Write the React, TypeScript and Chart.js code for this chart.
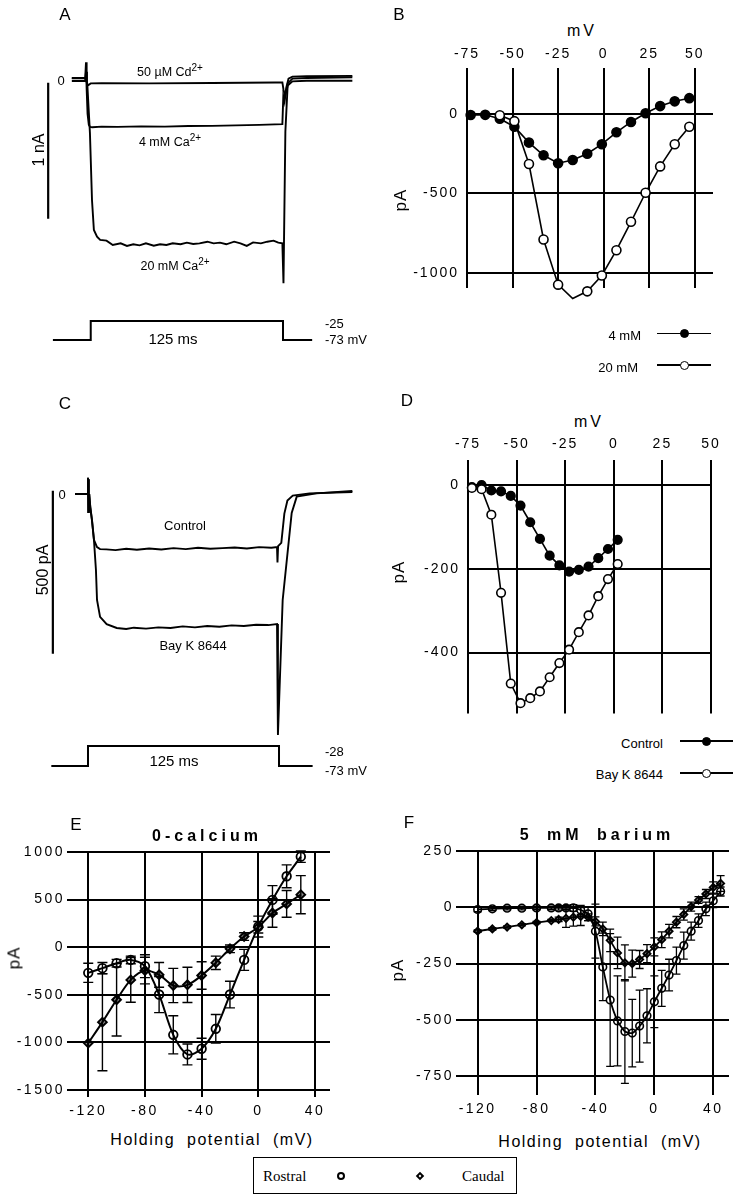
import React, { useEffect, useRef } from "react";
import { Chart, registerables } from "chart.js";
Chart.register(...registerables);

// ---------------- Panel A : current traces (ms, pA) ----------------
const aTimeCd = [-9, -0.5, 0, 0.6, 1.5, 3, 10, 40, 80, 120, 124.6, 125.3, 126.3, 128, 131, 140, 169];
const aCurCd = [-7, -7, 60, -30, -37, -25, -24, -25, -22, -18, -18, -70, -120, -40, -10, -6, -6];
const aTimeCa4 = [-9, -0.5, 0, 0.4, 1, 1.8, 2.6, 4, 10, 20, 35, 50, 65, 80, 95, 110, 124.6, 125.2, 126, 127, 128.5, 131, 140, 169];
const aCurCa4 = [15, 15, 130, -60, -250, -330, -345, -347, -343, -345, -341, -343, -338, -337, -334, -330, -325, -120, -160, -60, 10, 25, 28, 30];
const aTimeCa20 = [-9, -0.5, 0.8, 2.5, 3.8, 5, 7, 9, 13, 17, 22, 26, 30, 34, 38, 43, 47, 51, 55, 60, 64, 68, 72, 77, 81, 85, 89, 94, 98, 102, 106, 111, 115, 119, 122, 124.6, 125.3, 126.5, 128, 131, 140, 169];
const aCurCa20 = [12, 12, -25, -392, -882, -1103, -1152, -1176, -1181, -1213, -1201, -1220, -1208, -1216, -1201, -1218, -1208, -1213, -1201, -1208, -1196, -1206, -1201, -1189, -1201, -1196, -1208, -1189, -1201, -1220, -1194, -1201, -1189, -1181, -1196, -1201, -1495, -380, -25, 10, 15, 20];
const aProtocolTime = [-21, 3, 3, 125, 125, 143.5];
const aProtocolMv = [-73, -73, -25, -25, -73, -73];
const aScaleBarTime = [-24, -24];
const aScaleBarPa = [-20, -1020];

// ---------------- Panel C : current traces (ms, pA) ----------------
const cTimeControl = [-8.5, -0.3, 0, 0.2, 0.4, 0.6, 0.8, 1.5, 2.6, 3.9, 5.9, 7.9, 12, 18, 25, 32, 40, 48, 56, 64, 72, 80, 88, 96, 104, 112, 120, 123.7, 124, 124.4, 126.5, 128.5, 130.5, 134, 145, 173];
const cCurControl = [0, 0, 50, -55, 45, -40, 0, -40, -80, -141, -163, -169, -170, -172, -168, -171, -167, -170, -166, -169, -165, -168, -166, -164, -167, -163, -165, -163, -210, -160, -150, -60, -20, -5, 2, 6];
const cTimeBayK = [-8.5, -0.3, 0, 0.2, 0.4, 0.6, 0.8, 1.5, 2.6, 3.9, 5.2, 5.9, 7.9, 12.2, 18.8, 25, 30, 38, 46, 54, 62, 70, 78, 86, 94, 102, 110, 118, 123.7, 124.3, 127.4, 133.3, 136.6, 149.5, 173];
const cCurBayK = [0, 0, 50, -55, 45, -40, 0, -40, -80, -141, -233, -325, -377, -399, -411, -414, -410, -413, -409, -411, -406, -409, -405, -407, -403, -405, -401, -402, -399, -739, -325, -58, -8, 2, 9];
const cProtocolTime = [-24, 0, 0, 125, 125, 147];
const cProtocolMv = [-73, -73, -28, -28, -73, -73];
const cScaleBarTime = [-23, -23];
const cScaleBarPa = [10, -490];

// ---------------- Panel B : I-V (mV, pA) ----------------
const bXTicks = [-75, -50, -25, 0, 25, 50];
const bYTicks = [0, -500, -1000];
const bVoltage4 = [-73, -65, -57, -49, -41, -33, -25, -17, -9, -1, 7, 15, 23, 31, 39, 47];
const b4mM = [-6, -5, -30, -80, -180, -260, -310, -290, -250, -190, -115, -50, 5, 50, 80, 100];
const bVoltage20 = [-57, -49, -41, -33, -25, -17, -9, -1, 7, 15, 23, 31, 39, 47];
const b20mM = [-8, -45, -315, -790, -1075, -1162, -1117, -1017, -858, -679, -496, -330, -190, -80];

// ---------------- Panel D : I-V (mV, pA) ----------------
const dXTicks = [-75, -50, -25, 0, 25, 50];
const dYTicks = [0, -200, -400];
const dVoltage = [-73, -68, -63, -58, -53, -48, -43, -38, -33, -28, -23, -18, -13, -8, -3, 2];
const dControl = [-4, 1, -12, -14, -25, -48, -88, -128, -168, -191, -206, -202, -194, -174, -152, -130];
const dBayK = [-6, -9, -70, -257, -474, -521, -509, -493, -459, -425, -393, -351, -311, -265, -224, -188];

// ---------------- Panel E : 0-calcium ----------------
const eXTicks = [-120, -80, -40, 0, 40];
const eYTicks = [1000, 500, 0, -500, -1000, -1500];
const eVoltage = [-120, -110, -100, -90, -80, -70, -60, -50, -40, -30, -20, -10, 0, 10, 20, 30];
const eRostral = [-269, -220, -168, -133, -199, -497, -920, -1126, -1066, -857, -497, -133, 217, 497, 745, 951];
const eRostralErr = [100, 60, 40, 40, 120, 190, 200, 110, 110, 150, 140, 110, 110, 150, 120, 60];
const eCaudal = [-1007, -787, -552, -343, -245, -290, -402, -395, -297, -164, -17, 112, 210, 360, 455, 552];
const eCaudalErr = [0, 510, 380, 235, 140, 130, 180, 185, 145, 70, 40, 40, 60, 150, 140, 200];

// ---------------- Panel F : 5 mM barium ----------------
const fXTicks = [-120, -80, -40, 0, 40];
const fYTicks = [250, 0, -250, -500, -750];
const fVoltage = [-120, -110, -100, -90, -80, -70, -65, -60, -55, -50, -45, -40, -35, -30, -25, -20, -15, -10, -5, 0, 5, 10, 15, 20, 25, 30, 35, 40, 45];
const fRostral = [-10, -7, -4, -4, -3, -3, -3, -3, -3, -12, -29, -106, -265, -412, -505, -552, -559, -528, -482, -420, -360, -301, -237, -170, -106, -59, -7, 29, 70];
const fRostralErr = [10, 8, 8, 8, 8, 8, 10, 10, 15, 20, 30, 120, 150, 295, 200, 230, 150, 160, 120, 115, 80, 70, 60, 60, 40, 30, 30, 30, 20];
const fCaudal = [-106, -96, -88, -78, -68, -59, -54, -49, -44, -41, -44, -63, -96, -147, -203, -247, -250, -232, -206, -176, -144, -106, -66, -32, 3, 32, 59, 88, 106];
const fCaudalErr = [5, 5, 5, 5, 5, 5, 10, 40, 40, 40, 15, 20, 30, 50, 70, 80, 60, 40, 40, 40, 35, 30, 25, 25, 20, 15, 20, 25, 35];

const SANS = "'Liberation Sans', Arial, Helvetica, sans-serif";
const SERIF = "'Liberation Serif', 'Times New Roman', serif";

const pts = (xs: number[], ys: number[]) => xs.map((x, i) => ({ x, y: ys[i] }));

const letterSpacingPlugin = {
  id: "letterSpacing",
  beforeDraw(chart: any, _a: any, opts: any) {
    (chart.ctx as any).letterSpacing = (opts && opts.value) || "0px";
  },
};

const errorBarPlugin = {
  id: "errorBars",
  afterDatasetsDraw(chart: any, _a: any, opts: any) {
    const ctx = chart.ctx;
    const ys = chart.scales.y;
    chart.data.datasets.forEach((ds: any, i: number) => {
      const errs = ds.errors;
      if (!errs) return;
      const meta = chart.getDatasetMeta(i);
      ctx.save();
      ctx.strokeStyle = "#000";
      ctx.lineWidth = (opts && opts.lineWidth) || 1.4;
      const c = (opts && opts.cap) || 5;
      meta.data.forEach((pt: any, j: number) => {
        const e = errs[j];
        if (!e) return;
        const v = ds.data[j].y;
        const yt = ys.getPixelForValue(v + e);
        const yb = ys.getPixelForValue(v - e);
        const x = pt.x;
        ctx.beginPath();
        ctx.moveTo(x, yt);
        ctx.lineTo(x, yb);
        ctx.moveTo(x - c, yt);
        ctx.lineTo(x + c, yt);
        ctx.moveTo(x - c, yb);
        ctx.lineTo(x + c, yb);
        ctx.stroke();
      });
      ctx.restore();
    });
  },
};

const tickFont = { family: SANS, size: 14 };

function gridAxis(position: string, min: number, max: number, ticks: number[], size: number, pad: number) {
  const vertical = position === "left" || position === "right";
  return {
    type: "linear",
    position,
    min,
    max,
    afterBuildTicks: (s: any) => {
      s.ticks = ticks.map((v) => ({ value: v }));
    },
    afterFit: (s: any) => {
      if (vertical) s.width = size;
      else s.height = size;
    },
    grid: { color: "#000", lineWidth: 2, drawTicks: false },
    border: { display: false },
    ticks: { color: "#000", font: tickFont, padding: pad, autoSkip: false, maxRotation: 0, minRotation: 0, callback: (v: any) => String(v) },
  };
}

function baseOptions(scales: any, padding: any, plugins: any = {}) {
  return {
    animation: false,
    responsive: false,
    maintainAspectRatio: false,
    events: [],
    layout: { padding },
    plugins: { legend: { display: false }, tooltip: { enabled: false }, ...plugins },
    scales,
  };
}

const trace = (xs: number[], ys: number[], axis: string, w = 1.9) => ({
  data: pts(xs, ys),
  yAxisID: axis,
  showLine: true,
  pointRadius: 0,
  borderColor: "#000",
  borderWidth: w,
  tension: 0,
});

const panelAConfig = () => ({
  type: "scatter",
  data: {
    datasets: [
      trace(aTimeCd, aCurCd, "y"),
      trace(aTimeCa4, aCurCa4, "y"),
      trace(aTimeCa20, aCurCa20, "y"),
      trace(aScaleBarTime, aScaleBarPa, "y", 2.2),
      trace(aProtocolTime, aProtocolMv, "yV", 2),
    ],
  },
  options: baseOptions(
    {
      x: { type: "linear", display: false, min: -54.57, max: 180.2 },
      y: { type: "linear", display: false, min: -2058.8, max: 588.2 },
      yV: { type: "linear", display: false, min: -123.5, max: 786 },
    },
    0
  ),
});

const panelCConfig = () => ({
  type: "scatter",
  data: {
    datasets: [
      trace(cTimeControl, cCurControl, "y"),
      trace(cTimeBayK, cCurBayK, "y"),
      trace(cScaleBarTime, cScaleBarPa, "y", 2.2),
      trace(cProtocolTime, cProtocolMv, "yV", 2),
    ],
  },
  options: baseOptions(
    {
      x: { type: "linear", display: false, min: -57.59, max: 184.55 },
      y: { type: "linear", display: false, min: -907.8, max: 349.6 },
      yV: { type: "linear", display: false, min: -127, max: 795.5 },
    },
    0
  ),
});

const ivLine = (xs: number[], ys: number[], fill: string, r: number, extra: any = {}) => ({
  data: pts(xs, ys),
  showLine: true,
  borderColor: "#000",
  borderWidth: 1.6,
  pointRadius: r,
  pointBackgroundColor: fill,
  pointBorderColor: "#000",
  pointBorderWidth: 1.6,
  tension: 0,
  clip: false,
  ...extra,
});

const panelBConfig = () => ({
  type: "scatter",
  plugins: [letterSpacingPlugin],
  data: {
    datasets: [ivLine(bVoltage20, b20mM, "#fff", 4.5), ivLine(bVoltage4, b4mM, "#000", 4.5)],
  },
  options: baseOptions(
    { x: gridAxis("top", -75, 60, bXTicks, 28, 5), y: gridAxis("left", -1096, 290, bYTicks, 97, 8) },
    { left: 0, top: 0, right: 24, bottom: 27 },
    { letterSpacing: { value: "2px" } }
  ),
});

const panelDConfig = () => ({
  type: "scatter",
  plugins: [letterSpacingPlugin],
  data: {
    datasets: [ivLine(dVoltage, dBayK, "#fff", 4.3), ivLine(dVoltage, dControl, "#000", 4.3)],
  },
  options: baseOptions(
    { x: gridAxis("top", -75, 50, dXTicks, 30, 7), y: gridAxis("left", -546, 61, dYTicks, 98, 8) },
    { left: 0, top: 0, right: 26, bottom: 16 },
    { letterSpacing: { value: "2px" } }
  ),
});

const panelEConfig = () => ({
  type: "scatter",
  plugins: [letterSpacingPlugin, errorBarPlugin],
  data: {
    datasets: [
      ivLine(eVoltage, eRostral, "rgba(0,0,0,0)", 4.3, { borderWidth: 2, pointBorderWidth: 1.8, tension: 0.3, errors: eRostralErr }),
      ivLine(eVoltage, eCaudal, "rgba(0,0,0,0.45)", 4.3, { borderWidth: 2, pointBorderWidth: 2, pointStyle: "rectRot", tension: 0.3, errors: eCaudalErr }),
    ],
  },
  options: baseOptions(
    { x: gridAxis("bottom", -135, 50.6, eXTicks, 33, 6), y: gridAxis("left", -1573, 1000, eYTicks, 67, 2) },
    { left: 0, top: 32, right: 40, bottom: 0 },
    { letterSpacing: { value: "2.5px" }, errorBars: { cap: 5, lineWidth: 1.4 } }
  ),
});

const panelFConfig = () => ({
  type: "scatter",
  plugins: [letterSpacingPlugin, errorBarPlugin],
  data: {
    datasets: [
      ivLine(fVoltage, fRostral, "rgba(0,0,0,0)", 3.8, { borderWidth: 1.8, pointBorderWidth: 1.6, tension: 0.2, errors: fRostralErr }),
      ivLine(fVoltage, fCaudal, "rgba(0,0,0,0.45)", 3.6, { borderWidth: 1.8, pointBorderWidth: 1.8, pointStyle: "rectRot", tension: 0.2, errors: fCaudalErr }),
    ],
  },
  options: baseOptions(
    { x: gridAxis("bottom", -134.7, 50.7, fXTicks, 35, 6), y: gridAxis("left", -834, 250, fYTicks, 86, 2) },
    { left: 0, top: 31, right: 8, bottom: 0 },
    { letterSpacing: { value: "2.5px" }, errorBars: { cap: 4, lineWidth: 1.3 } }
  ),
});

function ChartCanvas({ left, top, width, height, config }: any) {
  const ref = useRef<HTMLCanvasElement>(null);
  useEffect(() => {
    const chart = new Chart(ref.current as HTMLCanvasElement, config() as any);
    return () => chart.destroy();
  }, []);
  return <canvas ref={ref} width={width} height={height} style={{ position: "absolute", left, top, width, height }} />;
}

function Txt({ x, y, children, size = 13, align = "center", rotate = 0, family = SANS, weight = 400, ls = 0, ws = 0 }: any) {
  const tx = align === "center" ? "-50%" : align === "right" ? "-100%" : "0";
  return (
    <div
      style={{
        position: "absolute",
        left: x,
        top: y,
        transform: `translate(${tx}, -50%)${rotate ? ` rotate(${rotate}deg)` : ""}`,
        fontFamily: family,
        fontSize: size,
        fontWeight: weight,
        letterSpacing: ls,
        wordSpacing: ws,
        whiteSpace: "pre",
        lineHeight: 1,
        color: "#000",
      }}
    >
      {children}
    </div>
  );
}

const Sup = ({ children }: any) => <sup style={{ fontSize: "0.8em", verticalAlign: "0.45em", lineHeight: 0 }}>{children}</sup>;

function LegendSample({ x1, x2, y, filled, r = 4.5 }: any) {
  return (
    <>
      <div style={{ position: "absolute", left: x1, top: y - 0.75, width: x2 - x1, height: 1.5, background: "#000" }} />
      <div
        style={{
          position: "absolute",
          left: (x1 + x2) / 2 - r,
          top: y - r,
          width: r * 2,
          height: r * 2,
          boxSizing: "border-box",
          borderRadius: "50%",
          border: "1.5px solid #000",
          background: filled ? "#000" : "#fff",
        }}
      />
    </>
  );
}

export default function App() {
  return (
    <div style={{ position: "absolute", left: 0, top: 0, width: 737, height: 1199, background: "#fff", overflow: "hidden", color: "#000" }}>
      <ChartCanvas left={0} top={0} width={370} height={360} config={panelAConfig} />
      <ChartCanvas left={370} top={40} width={367} height={275} config={panelBConfig} />
      <ChartCanvas left={0} top={380} width={370} height={410} config={panelCConfig} />
      <ChartCanvas left={370} top={430} width={367} height={300} config={panelDConfig} />
      <ChartCanvas left={0} top={820} width={370} height={310} config={panelEConfig} />
      <ChartCanvas left={370} top={820} width={367} height={310} config={panelFConfig} />

      {/* panel letters */}
      <Txt x={65} y={14} size={17}>A</Txt>
      <Txt x={399} y={14} size={17}>B</Txt>
      <Txt x={65} y={403} size={17}>C</Txt>
      <Txt x={407} y={400} size={17}>D</Txt>
      <Txt x={76} y={824} size={17}>E</Txt>
      <Txt x={409} y={822} size={17}>F</Txt>

      {/* Panel A annotations */}
      <Txt x={170} y={72} size={12.5}>50 µM Cd<Sup>2+</Sup></Txt>
      <Txt x={170} y={142} size={12.5}>4 mM Ca<Sup>2+</Sup></Txt>
      <Txt x={175} y={266} size={12.5}>20 mM Ca<Sup>2+</Sup></Txt>
      <Txt x={61} y={80} size={13}>0</Txt>
      <Txt x={39} y={150} size={16} rotate={-90}>1 nA</Txt>
      <Txt x={173} y={338} size={15}>125 ms</Txt>
      <Txt x={325} y={323} size={13} align="left">-25</Txt>
      <Txt x={325} y={339} size={13} align="left">-73 mV</Txt>

      {/* Panel B annotations */}
      <Txt x={582} y={31} size={16} ls={3}>mV</Txt>
      <Txt x={400} y={200} size={17} rotate={-90} ls={1}>pA</Txt>
      <Txt x={641} y={335} size={13} align="right">4 mM</Txt>
      <Txt x={638} y={367} size={13} align="right">20 mM</Txt>
      <LegendSample x1={657} x2={711} y={333.5} filled />
      <LegendSample x1={657} x2={711} y={365} filled={false} />

      {/* Panel C annotations */}
      <Txt x={62} y={494} size={13}>0</Txt>
      <Txt x={43} y={570} size={16} rotate={-90}>500 pA</Txt>
      <Txt x={185} y={525} size={13}>Control</Txt>
      <Txt x={193} y={645} size={13}>Bay K 8644</Txt>
      <Txt x={174} y={760} size={15}>125 ms</Txt>
      <Txt x={325} y={751} size={13} align="left">-28</Txt>
      <Txt x={325} y={770} size={13} align="left">-73 mV</Txt>

      {/* Panel D annotations */}
      <Txt x={589} y={422} size={16} ls={3}>mV</Txt>
      <Txt x={398} y={572} size={17} rotate={-90} ls={1}>pA</Txt>
      <Txt x={663} y={743} size={13} align="right">Control</Txt>
      <Txt x={663} y={774} size={13} align="right">Bay K 8644</Txt>
      <LegendSample x1={680} x2={733} y={741} filled />
      <LegendSample x1={680} x2={733} y={773} filled={false} />

      {/* Panel E annotations */}
      <Txt x={207} y={836} size={16} weight={700} ls={4}>0-calcium</Txt>
      <Txt x={14} y={958} size={17} rotate={-90} ls={1}>pA</Txt>
      <Txt x={212} y={1140} size={16} ls={1.5} ws={6}>Holding potential (mV)</Txt>

      {/* Panel F annotations */}
      <Txt x={597} y={835} size={16} weight={700} ls={4} ws={6}>5 mM barium</Txt>
      <Txt x={397} y={970} size={17} rotate={-90} ls={1}>pA</Txt>
      <Txt x={600} y={1142} size={16} ls={1.5} ws={6}>Holding potential (mV)</Txt>

      {/* bottom legend */}
      <div style={{ position: "absolute", left: 253, top: 1157, width: 264, height: 37, boxSizing: "border-box", border: "1.5px solid #000" }} />
      <Txt x={263} y={1176} size={15} align="left" family={SERIF}>Rostral</Txt>
      <div style={{ position: "absolute", left: 336.5, top: 1172, width: 8, height: 8, boxSizing: "border-box", borderRadius: "50%", border: "2px solid #000" }} />
      <div style={{ position: "absolute", left: 417, top: 1173, width: 6, height: 6, boxSizing: "border-box", border: "2px solid #000", transform: "rotate(45deg)" }} />
      <Txt x={462} y={1176} size={15} align="left" family={SERIF}>Caudal</Txt>
    </div>
  );
}
